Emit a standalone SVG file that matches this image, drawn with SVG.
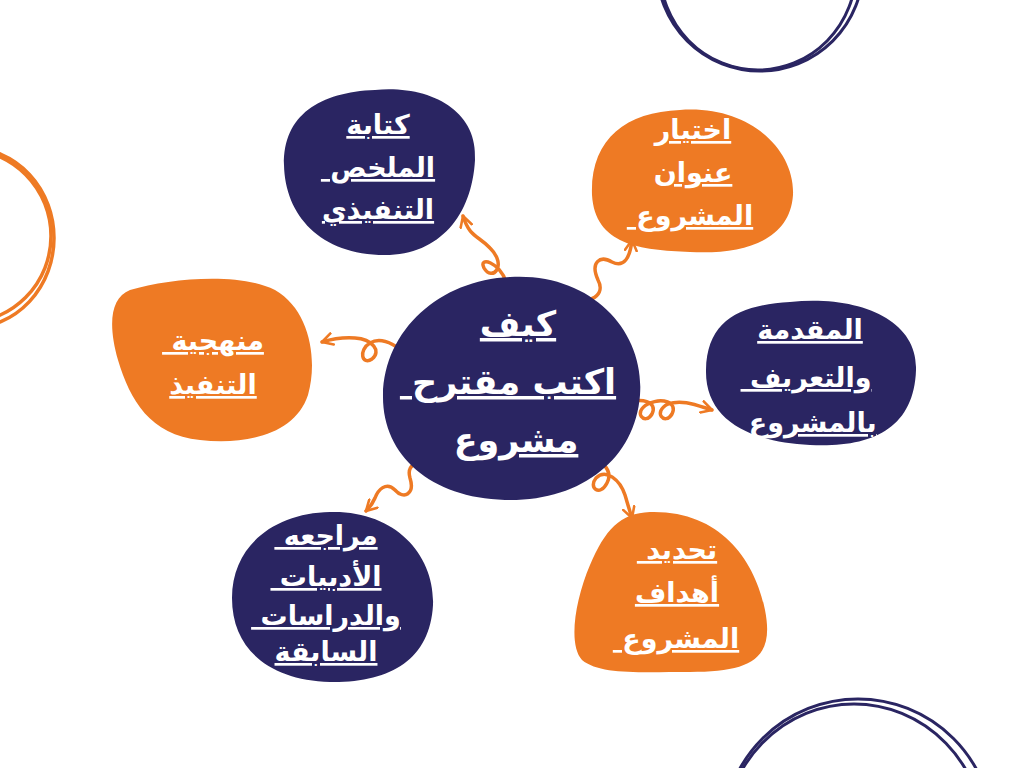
<svg xmlns="http://www.w3.org/2000/svg" width="1024" height="768" viewBox="0 0 1024 768">
<defs>
<style>
.navy{fill:#2a2562}
.orange{fill:#ee7a24}
.ring-n{fill:none;stroke:#2a2562;stroke-width:3}
.ring-o{fill:none;stroke:#ee7a24;stroke-width:3.5}
.lbl{fill:#ffffff;font-family:"DejaVu Sans",sans-serif;font-weight:bold;font-size:27px;text-anchor:middle;text-decoration:underline;direction:rtl;white-space:pre}
.big{font-size:35px}
.conn{fill:none;stroke:#ee7a24;stroke-width:3.5;stroke-linecap:round;marker-end:url(#arr)}
</style>
<marker id="arr" viewBox="0 0 12 12" refX="10" refY="6" markerWidth="14" markerHeight="14" markerUnits="userSpaceOnUse" orient="auto">
<path d="M1,1 L10,6 L1,11" fill="none" stroke="#ee7a24" stroke-width="2.2" stroke-linecap="round" stroke-linejoin="round"/>
</marker>
</defs>
<rect width="1024" height="768" fill="#ffffff"/>
<g id="decor">
<circle class="ring-o" cx="-36" cy="236" r="87"/>
<ellipse class="ring-o" cx="-30" cy="238" rx="84" ry="90"/>
<circle class="ring-n" cx="760" cy="-32" r="103"/>
<ellipse class="ring-n" cx="758" cy="-30" rx="98" ry="100"/>
<circle class="ring-n" cx="858" cy="834" r="135"/>
<ellipse class="ring-n" cx="854" cy="838" rx="130" ry="134"/>
</g>
<g id="connectors">
<path class="conn" d="M506,282 C500,262 478,256 484,268 C492,282 508,266 490,248 C478,235 470,238 463,216"/>
<path class="conn" d="M572,298 C590,305 606,295 598,280 C590,262 600,255 612,262 C624,268 630,258 632,240"/>
<path class="conn" d="M622,405 C642,396 658,402 652,414 C645,426 632,412 648,404 C662,397 678,402 672,414 C665,426 652,412 668,404 C682,399 696,405 712,410"/>
<path class="conn" d="M585,455 C600,458 614,470 607,483 C600,497 588,488 596,478 C606,468 620,480 625,495 C628,505 630,512 632,518"/>
<path class="conn" d="M437,472 C425,460 405,460 410,478 C415,494 404,500 395,490 C386,481 378,490 375,498 C372,505 369,508 366,511"/>
<path class="conn" d="M408,356 C396,345 382,336 370,343 C358,350 362,366 372,359 C382,351 372,339 355,338 C342,337 332,339 322,342"/>
</g>
<g id="center">
<path class="navy" d="M510,277 C590,272 645,330 640,395 C635,460 580,502 505,500 C430,498 382,455 383,395 C384,330 440,280 510,277 Z"/>
<text class="lbl big" x="518" y="336">كيف</text>
<text class="lbl big" x="508" y="394">اكتب مقترح </text>
<text class="lbl big" x="516" y="452">مشروع</text>
</g>
<g id="node-summary">
<path class="navy" d="M375,90 C430,85 478,110 475,160 C472,215 440,255 385,255 C320,255 285,215 284,165 C283,115 320,92 375,90 Z"/>
<text class="lbl" x="378" y="134">كتابة</text>
<text class="lbl" x="378" y="177">الملخص </text>
<text class="lbl" x="378" y="219">التنفيذي</text>
</g>
<g id="node-title">
<path class="orange" d="M680,110 C750,105 795,150 793,195 C790,240 745,255 690,252 C640,250 595,245 592,195 C590,140 625,112 680,110 Z"/>
<text class="lbl" x="693" y="139">اختيار</text>
<text class="lbl" x="693" y="182">عنوان</text>
<text class="lbl" x="690" y="225">المشروع </text>
</g>
<g id="node-intro">
<path class="navy" d="M790,302 C860,295 918,320 916,370 C914,430 870,448 810,445 C750,442 705,420 706,370 C707,320 740,305 790,302 Z"/>
<text class="lbl" x="810" y="339">المقدمة</text>
<text class="lbl" x="806" y="387">والتعريف </text>
<text class="lbl" x="808" y="432">بالمشروع </text>
</g>
<g id="node-method">
<path class="orange" d="M130,290 C170,278 240,272 275,290 C310,310 318,360 308,395 C295,435 245,445 200,440 C150,435 130,400 118,360 C108,325 110,298 130,290 Z"/>
<text class="lbl" x="213" y="350">منهجية </text>
<text class="lbl" x="213" y="394">التنفيذ</text>
</g>
<g id="node-literature">
<path class="navy" d="M330,512 C395,510 435,555 433,605 C430,660 390,683 330,682 C270,680 232,650 232,598 C232,545 275,513 330,512 Z"/>
<text class="lbl" x="326" y="545">مراجعه </text>
<text class="lbl" x="326" y="586">الأدبيات </text>
<text class="lbl" x="326" y="625">والدراسات </text>
<text class="lbl" x="326" y="661">السابقة</text>
</g>
<g id="node-goals">
<path class="orange" d="M650,512 C720,510 755,560 765,610 C775,660 750,672 690,672 C640,672 600,675 582,660 C568,645 575,600 590,565 C605,530 620,513 650,512 Z"/>
<text class="lbl" x="677" y="559">تحديد </text>
<text class="lbl" x="677" y="602">أهداف</text>
<text class="lbl" x="676" y="648">المشروع </text>
</g>
</svg>
